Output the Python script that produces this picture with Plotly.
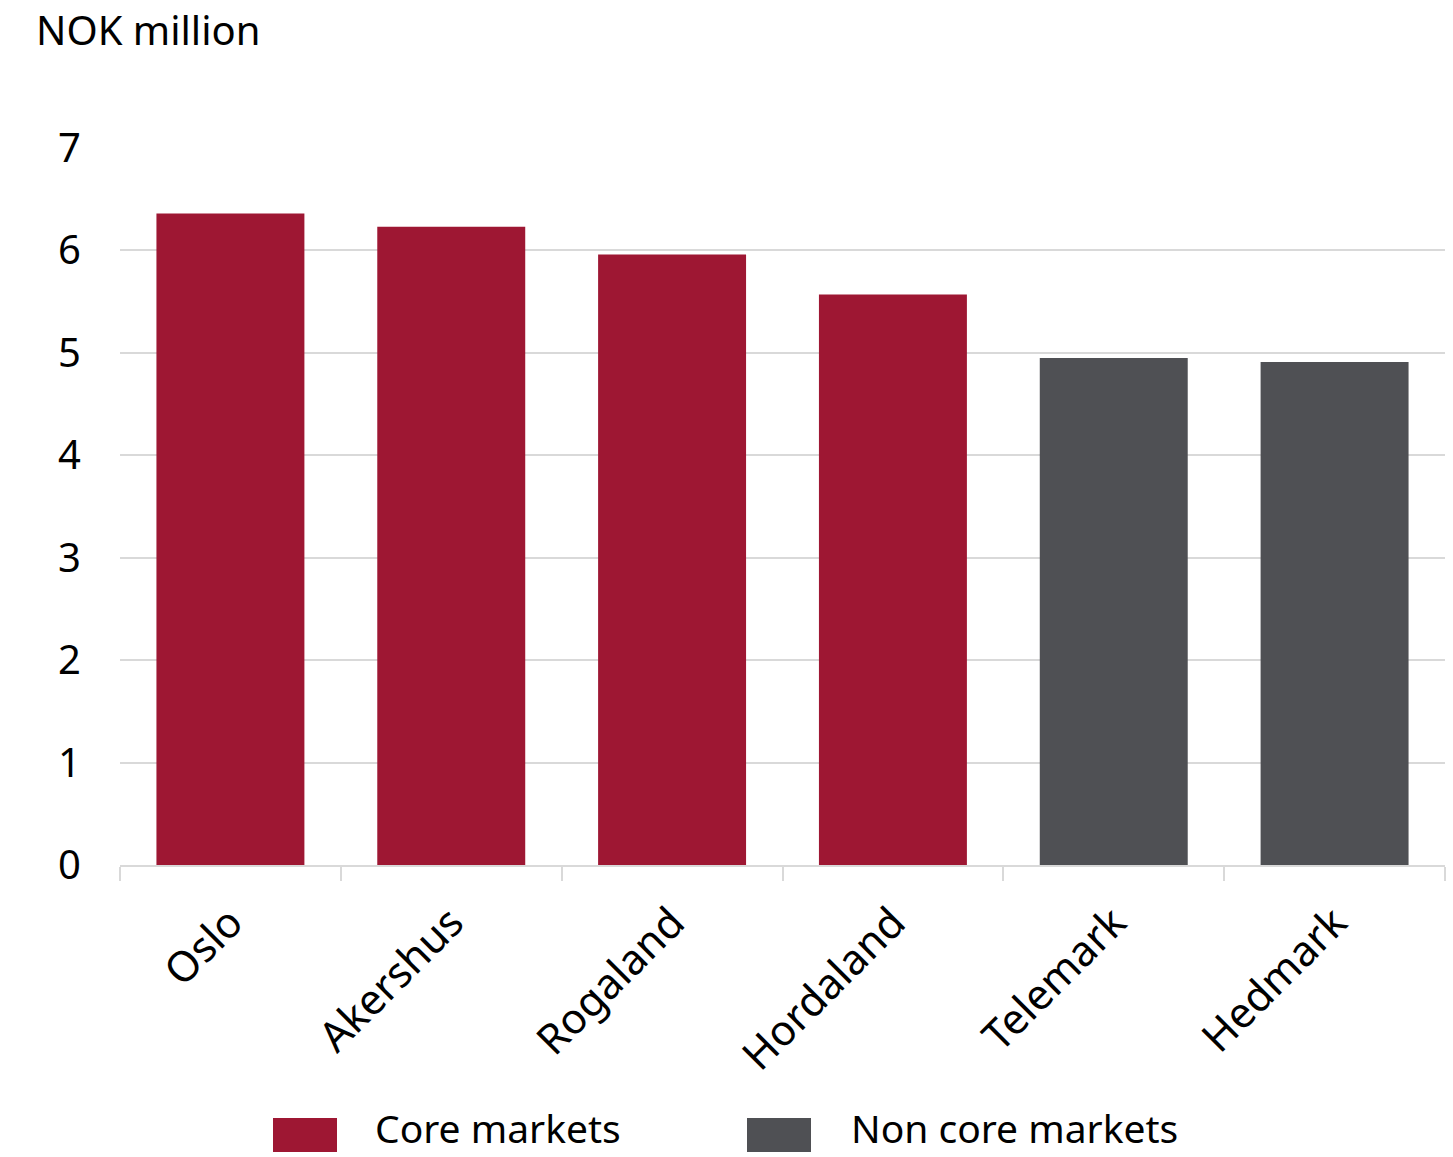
import plotly.graph_objects as go

# Average price per region, NOK million
regions = ["Oslo", "Akershus", "Rogaland", "Hordaland", "Telemark", "Hedmark"]
values = [6.36, 6.23, 5.96, 5.57, 4.95, 4.91]
segments = ["Core markets", "Core markets", "Core markets", "Core markets",
            "Non core markets", "Non core markets"]
y_ticks = [0, 1, 2, 3, 4, 5, 6, 7]

RED = "#9E1733"
GREY = "#4F5054"
seg_colors = {"Core markets": RED, "Non core markets": GREY}
FONT = "Noto Sans"

W, H = 1453, 1157
M_L, M_R, M_T, M_B = 120, 8, 148, 292
PW, PH = W - M_L - M_R, H - M_T - M_B

fig = go.Figure()
fig.add_trace(go.Bar(
    x=regions,
    y=values,
    marker=dict(color=[seg_colors[s] for s in segments], line=dict(width=0)),
    showlegend=False,
    hoverinfo="x+y",
))


def px_x(p):
    return (p - M_L) / PW


def px_y(p):
    return (H - M_B - p) / PH


# Legend drawn as swatches plus labels below the category axis
legend_items = [("Core markets", 273, 373), ("Non core markets", 747, 849)]
shapes, annotations = [], []
for label, sx, tx in legend_items:
    shapes.append(dict(
        type="rect", xref="paper", yref="paper",
        x0=px_x(sx), x1=px_x(sx + 64), y0=px_y(1152), y1=px_y(1118),
        fillcolor=seg_colors[label], line=dict(width=0), layer="above",
    ))
    annotations.append(dict(
        text=label, xref="paper", yref="paper",
        x=px_x(tx), y=px_y(1127), xanchor="left", yanchor="middle",
        showarrow=False, font=dict(family=FONT, size=39, color="#000000"),
    ))

annotations.append(dict(
    text="NOK million", xref="paper", yref="paper",
    x=px_x(34), y=px_y(30), xanchor="left", yanchor="middle",
    showarrow=False, font=dict(family=FONT, size=40, color="#000000"),
))

fig.update_layout(
    width=W, height=H,
    margin=dict(l=M_L, r=M_R, t=M_T, b=M_B),
    paper_bgcolor="white",
    plot_bgcolor="white",
    bargap=0.33,
    font=dict(family=FONT, size=40, color="#000000"),
    shapes=shapes,
    annotations=annotations,
    xaxis=dict(
        type="category",
        tickangle=-45,
        tickson="boundaries",
        ticks="outside",
        ticklen=14,
        tickwidth=2,
        tickcolor="#D9D9D9",
        showline=True,
        linecolor="#D9D9D9",
        linewidth=2,
        showgrid=False,
        ticklabelstandoff=14,
        tickfont=dict(family=FONT, size=42, color="#000000"),
    ),
    yaxis=dict(
        range=[0, 7],
        tickvals=y_ticks,
        showgrid=True,
        gridcolor="#D9D9D9",
        gridwidth=2,
        zeroline=False,
        showline=False,
        ticks="",
        ticklabelstandoff=38,
        tickfont=dict(family=FONT, size=40, color="#000000"),
    ),
)

fig.write_html("out.html")
